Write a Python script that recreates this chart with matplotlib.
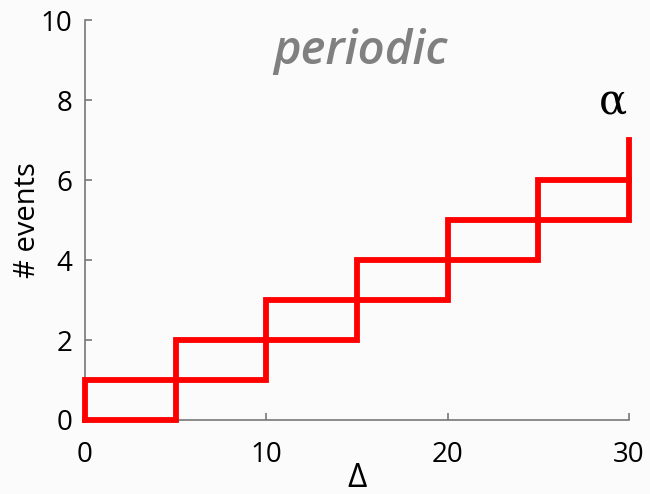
import numpy as np
import matplotlib.pyplot as plt

# step positions and counts
delta = [0, 5, 10, 15, 20, 25, 30]
lower = [0, 1, 2, 3, 4, 5]
upper = [1, 2, 3, 4, 5, 6]
last_count = 7
xticks = [0, 10, 20, 30]
yticks = [0, 2, 4, 6, 8, 10]

plt.rcParams['font.family'] = ['Open Sans', 'DejaVu Sans']

red = '#ff0000'
fig = plt.figure(figsize=(6.5, 4.94), dpi=100, facecolor='#fbfbfb')
ax = fig.add_axes([0.1308, 0.1498, 0.8369, 0.8097])
ax.set_facecolor('#fbfbfb')

# lower staircase, ending with the jump at the right edge
xl = np.repeat(delta, 2)[1:-1]
yl = np.repeat(lower, 2)
xl = np.append(xl, [delta[-1], delta[-1]])
yl = np.append(yl, [lower[-1], last_count])
ax.plot(xl, yl, color=red, lw=4.2, solid_joinstyle='miter', clip_on=False, zorder=3)

# upper staircase, joined to the lower one at delta = 0
xu = np.append([delta[0]], np.repeat(delta, 2)[1:-1])
yu = np.append([lower[0]], np.repeat(upper, 2))
ax.plot(xu, yu, color=red, lw=4.2, solid_joinstyle='miter', clip_on=False, zorder=3)

ax.set_xlim(0, 30)
ax.set_ylim(0, 10)
ax.set_xticks(xticks)
ax.set_yticks(yticks)
for s in ['top', 'right']:
    ax.spines[s].set_visible(False)
for s in ['left', 'bottom']:
    ax.spines[s].set_color('#777777')
    ax.spines[s].set_linewidth(1.2)
ax.tick_params(direction='in', length=5, width=1.2, color='#777777', labelsize=20)
ax.tick_params(axis='x', pad=15)
ax.tick_params(axis='y', pad=9)
ax.set_xlabel('Δ', fontsize=24, labelpad=-5)
ax.set_ylabel('# events', fontsize=21, labelpad=-1)

ax.text(15.2, 9.22, 'periodic', fontsize=34, style='italic', weight='semibold',
        color='#808080', ha='center', va='center')
ax.text(29.1, 7.95, 'α', fontsize=30, family='DejaVu Serif',
        ha='center', va='center')

fig.savefig('out.png', dpi=100, facecolor=fig.get_facecolor())
